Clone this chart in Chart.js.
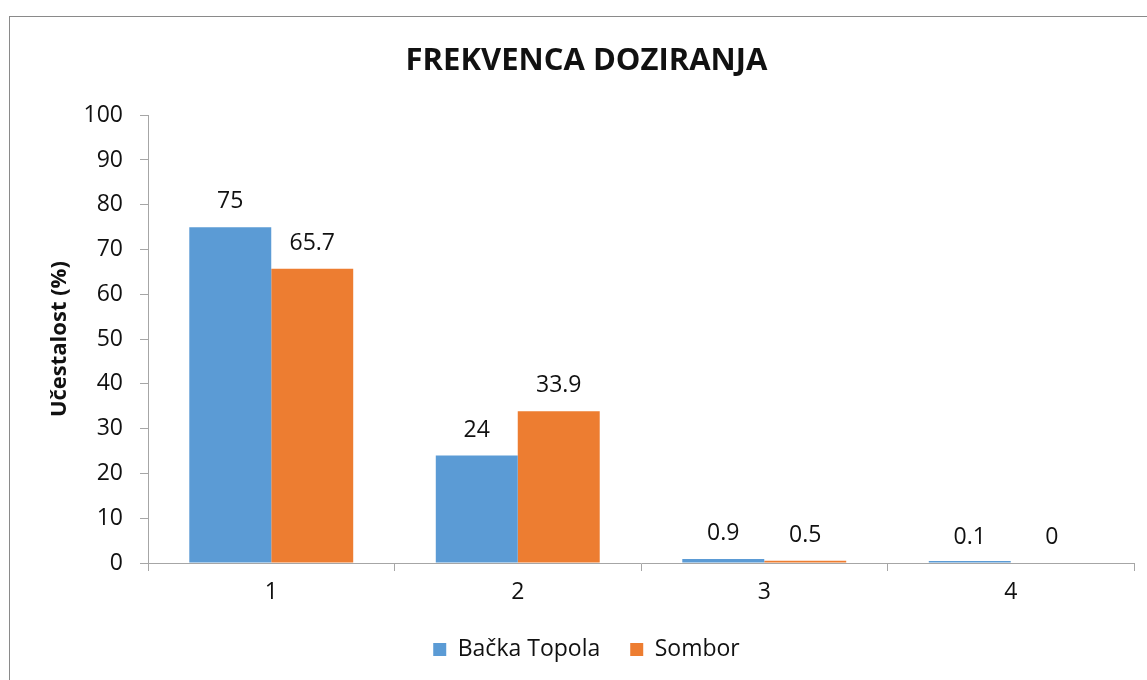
<!DOCTYPE html>
<html>
<head>
<meta charset="utf-8">
<script src="https://cdn.jsdelivr.net/npm/chart.js@4.4.1/dist/chart.umd.min.js"></script>
<style>
  html, body { margin: 0; padding: 0; background: #ffffff; }
  #wrap { position: relative; width: 1147px; height: 680px; overflow: hidden; }
  #frame { position: absolute; left: 9px; top: 16px; width: 1200px; height: 700px;
           border-top: 1px solid #8a8a8a; border-left: 1px solid #8a8a8a; box-sizing: border-box; }
  #c { position: absolute; left: 0; top: 0; }
</style>
</head>
<body>
<div id="wrap">
  <div id="frame"></div>
  <canvas id="c" width="1147" height="680"></canvas>
</div>
<script>
const categories = ['1', '2', '3', '4'];
const seriesNames = ['Bačka Topola', 'Sombor'];
const backaTopola = [75, 24, 0.9, 0.1];
const sombor = [65.7, 33.9, 0.5, 0];
const chartTitle = 'FREKVENCA DOZIRANJA';
const yAxisTitle = 'Učestalost (%)';

const FONT = "'Open Sans', 'DejaVu Sans', sans-serif";
const TEXT = '#111111';
const AXIS = '#a6a6a6';
const FS = 23;

const valueLabels = {
  id: 'valueLabels',
  afterDatasetsDraw(chart) {
    const ctx = chart.ctx;
    ctx.save();
    ctx.font = FS + 'px ' + FONT;
    ctx.fillStyle = TEXT;
    ctx.textAlign = 'center';
    ctx.textBaseline = 'alphabetic';
    chart.data.datasets.forEach((ds, di) => {
      const meta = chart.getDatasetMeta(di);
      const zeroY = chart.scales.y.getPixelForValue(0);
      meta.data.forEach((bar, i) => {
        const topY = chart.scales.y.getPixelForValue(ds.data[i]);
        ctx.fillText(String(ds.data[i]), bar.x, Math.min(topY, zeroY) - 19);
      });
    });
    ctx.restore();
  }
};

new Chart(document.getElementById('c'), {
  type: 'bar',
  data: {
    labels: categories,
    datasets: [
      { label: seriesNames[0], data: backaTopola, backgroundColor: '#5B9BD5', borderWidth: 0, minBarLength: 2 },
      { label: seriesNames[1], data: sombor, backgroundColor: '#ED7D31', borderWidth: 0 }
    ]
  },
  options: {
    responsive: false,
    animation: false,
    devicePixelRatio: 1,
    categoryPercentage: 0.665,
    barPercentage: 1.0,
    layout: { padding: { left: 39, right: 13, top: 0, bottom: 9 } },
    plugins: {
      title: {
        display: true,
        text: chartTitle,
        color: TEXT,
        font: { family: FONT, size: 31, weight: 'bold' },
        padding: { top: 43, bottom: 35 }
      },
      legend: {
        display: true,
        position: 'bottom',
        labels: {
          color: TEXT,
          font: { family: FONT, size: FS },
          boxWidth: 13,
          boxHeight: 13,
          padding: 30
        }
      },
      tooltip: { enabled: false }
    },
    scales: {
      x: {
        grid: { display: true, drawOnChartArea: false, drawTicks: true, tickLength: 8, color: AXIS, offset: true },
        border: { display: true, color: AXIS },
        ticks: { color: TEXT, font: { family: FONT, size: FS }, padding: 8 },
        afterFit(scale) { scale.height = 45; }
      },
      y: {
        min: 0,
        max: 100,
        ticks: { stepSize: 10, color: TEXT, font: { family: FONT, size: FS }, padding: 17 },
        grid: { display: true, drawOnChartArea: false, drawTicks: true, tickLength: 8, color: AXIS },
        border: { display: true, color: AXIS },
        title: {
          display: true,
          text: yAxisTitle,
          color: TEXT,
          font: { family: FONT, size: 22, weight: 'bold' },
          padding: { top: 8, bottom: 0 }
        },
        afterFit(scale) { scale.width = 109; }
      }
    }
  },
  plugins: [valueLabels]
});
</script>
</body>
</html>
